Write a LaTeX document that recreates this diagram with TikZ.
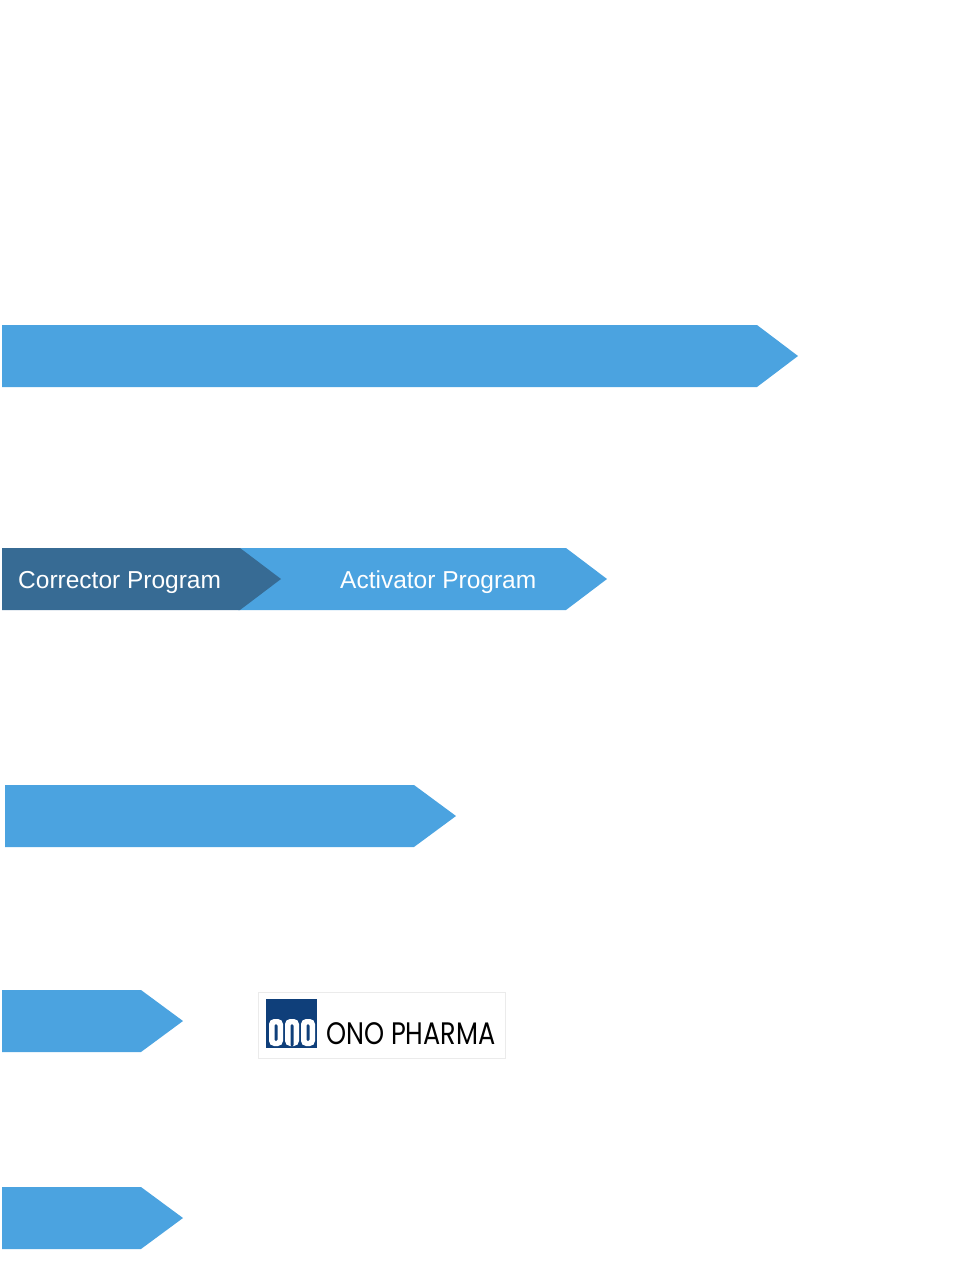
\documentclass[tikz,border=0pt]{standalone}
\usepackage{fontspec}
\setmainfont{Liberation Sans}
\newfontfamily\onofont{Poppins}
\definecolor{lblue}{HTML}{4BA3E0}
\definecolor{dblue}{HTML}{376B94}
\definecolor{navy}{HTML}{0F3F7A}
\begin{document}
\begin{tikzpicture}[x=1pt,y=-1pt,
  lbl/.style={text=white,font=\fontsize{24.5}{28}\selectfont,anchor=base west,inner sep=0pt}]
\useasboundingbox (0,0) rectangle (959,1284);
% arrow 1
\fill[lblue] (2,325) -- (757,325) -- (798,356) -- (757,387) -- (2,387) -- cycle;
% arrow 2
\fill[lblue] (238,548) -- (566,548) -- (607,579) -- (566,610) -- (238,610) -- (279,579) -- cycle;
\fill[dblue] (2,548) -- (240,548) -- (281,579) -- (240,610) -- (2,610) -- cycle;
\node[lbl] (corr) at (18,588) {Corrector Program};
\node[lbl] (act) at (340,588) {Activator Program};
% arrow 3
\fill[lblue] (5,785) -- (414,785) -- (456,816) -- (414,847) -- (5,847) -- cycle;
% arrow 4
\fill[lblue] (2,990) -- (141,990) -- (183,1021) -- (141,1052) -- (2,1052) -- cycle;
% arrow 5
\fill[lblue] (2,1187) -- (141,1187) -- (183,1218) -- (141,1249) -- (2,1249) -- cycle;
% logo
\draw[black!8,line width=0.8pt] (258,992) rectangle (505,1058);
\fill[navy] (266,999) rectangle (317,1048);
% "ono" letters
\begin{scope}[white]
\fill[rounded corners=5pt] (269,1019) rectangle (283,1046);
\fill[rounded corners=5pt] (285,1019) rectangle (299,1046);
\fill[rounded corners=5pt] (301,1019) rectangle (315,1046);
\end{scope}
\fill[navy,rounded corners=1.5pt] (274.5,1024) rectangle (277.5,1041);
\fill[navy,rounded corners=1.5pt] (290.5,1024) rectangle (293.5,1046.5);
\fill[navy,rounded corners=1.5pt] (306.5,1024) rectangle (309.5,1041);
\node[anchor=base west,inner sep=0pt] (ono) at (326,1044) {\scalebox{0.92}[1.12]{\resizebox{184pt}{!}{\onofont ONO PHARMA}}};
\end{tikzpicture}
\end{document}
